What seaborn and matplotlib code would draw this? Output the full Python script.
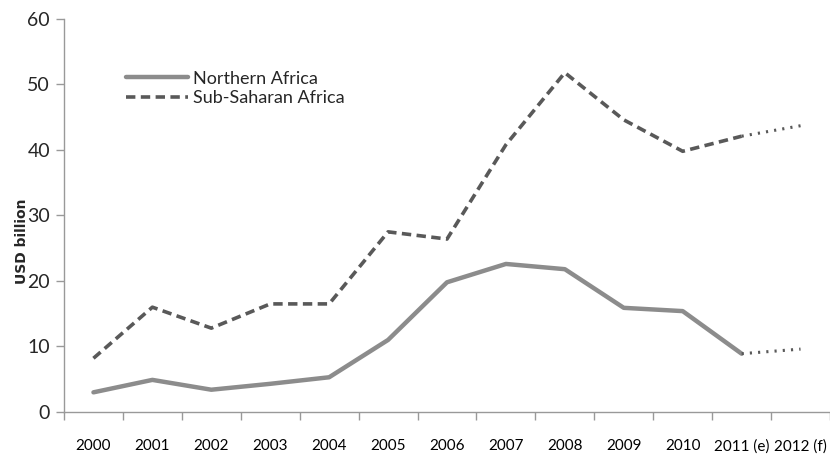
import matplotlib
matplotlib.use('Agg')

import pandas as pd
import numpy as np
import matplotlib.pyplot as plt
import seaborn as sns

years = ['2000', '2001', '2002', '2003', '2004', '2005', '2006', '2007',
         '2008', '2009', '2010', '2011 (e)', '2012 (f)']
northern = [3.0, 4.9, 3.4, 4.3, 5.3, 11.0, 19.8, 22.6, 21.8, 15.9, 15.4, 8.9, 9.6]
subsaharan = [8.2, 16.0, 12.8, 16.5, 16.5, 27.5, 26.4, 40.8, 51.8, 44.6, 39.8, 42.1, 43.7]

sns.set_style('white')
plt.rcParams['font.family'] = ['Lato', 'DejaVu Sans']

df = pd.DataFrame({'pos': np.arange(len(years)), 'year': years,
                   'Northern Africa': northern, 'Sub-Saharan Africa': subsaharan})
actual = df.iloc[:12]
proj = df.iloc[11:]

fig = plt.figure(figsize=(8.3, 4.57), dpi=100)
ax = fig.add_axes([0.0771, 0.0985, 0.9229, 0.86])

c_north = '#8c8c8c'
c_south = '#595959'

sns.lineplot(data=actual, x='pos', y='Northern Africa', ax=ax, color=c_north,
             linewidth=3.2, label='Northern Africa')
sns.lineplot(data=actual, x='pos', y='Sub-Saharan Africa', ax=ax, color=c_south,
             linewidth=2.6, linestyle=(0, (2.6, 1.5)), label='Sub-Saharan Africa')
sns.lineplot(data=proj, x='pos', y='Northern Africa', ax=ax, color=c_south,
             linewidth=2.2, linestyle=(0, (0.7, 2.0)), legend=False)
sns.lineplot(data=proj, x='pos', y='Sub-Saharan Africa', ax=ax, color=c_south,
             linewidth=2.2, linestyle=(0, (0.7, 2.0)), legend=False)

ax.set_ylim(0, 60)
ax.set_xlim(-0.5, 12.42)
ax.set_yticks(range(0, 61, 10))
ax.set_xticks(df['pos'])
ax.set_xticklabels(years)
ax.set_xticks(np.arange(-0.5, 12.6, 1.0), minor=True)
ax.tick_params(axis='x', which='major', bottom=False, pad=16, labelsize=11, colors='black')
ax.tick_params(axis='x', which='minor', bottom=True, length=6, width=1,
               color='#999999', direction='out')
ax.tick_params(axis='y', left=True, length=6, width=1, color='#999999',
               direction='out', pad=4, labelsize=14)

for side in ['top', 'right']:
    ax.spines[side].set_visible(False)
for side in ['left', 'bottom']:
    ax.spines[side].set_color('#999999')
    ax.spines[side].set_linewidth(1)

ax.set_xlabel('')
ax.set_ylabel('USD billion', family='DejaVu Sans', fontweight='bold', fontsize=10)
ax.yaxis.set_label_coords(-0.046, 0.435)

leg = ax.legend(loc='upper left', bbox_to_anchor=(0.06, 0.91), frameon=False,
                fontsize=13, handlelength=3.4, handletextpad=0.3, labelspacing=0.2)

fig.savefig('out.png', dpi=100)
